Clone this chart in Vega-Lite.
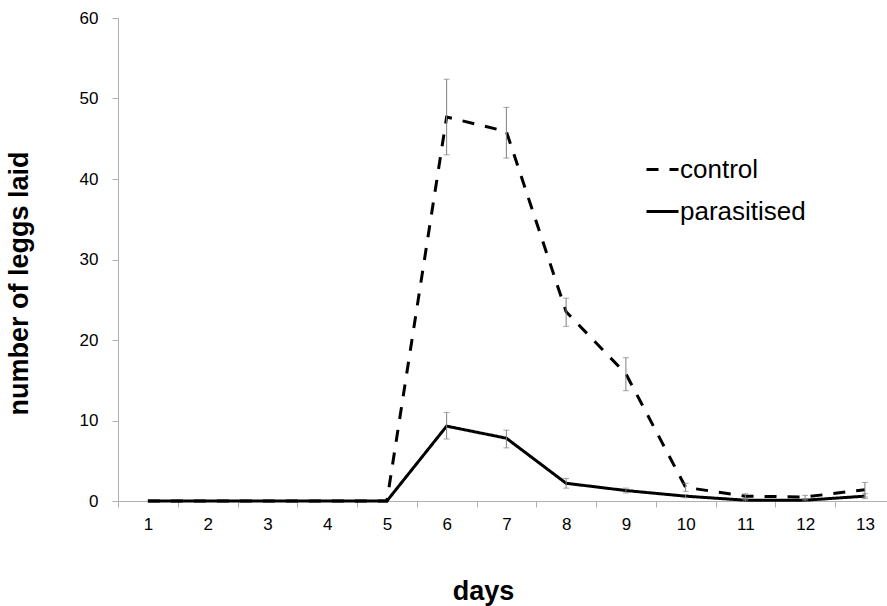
{
  "$schema": "https://vega.github.io/schema/vega-lite/v6.json",
  "width": 769,
  "height": 483,
  "autosize": {"type": "none"},
  "padding": {"left": 118, "top": 18, "right": 0, "bottom": 105},
  "background": "white",
  "config": {
    "view": {"stroke": null},
    "font": "Liberation Sans",
    "axis": {
      "grid": false,
      "domainColor": "#b0b0b0", "domainWidth": 1,
      "tickColor": "#b0b0b0", "tickSize": 6,
      "labelFont": "Liberation Sans", "labelFontSize": 17, "labelColor": "black",
      "titleFont": "Liberation Sans", "titleFontSize": 27, "titleFontWeight": "bold", "titleColor": "black"
    },
    "axisX": {
      "labelPadding": 9, "titlePadding": 46, "titleX": 365,
      "tickOffset": -29.875, "labelOffset": 29.875,
      "labelOverlap": false, "labelFlush": false
    },
    "axisY": {
      "labelPadding": 14, "titlePadding": 46, "titleY": 265
    }
  },
  "data": {
    "values": [
      {"day": 1, "group": "control", "value": 0},
      {"day": 2, "group": "control", "value": 0},
      {"day": 3, "group": "control", "value": 0},
      {"day": 4, "group": "control", "value": 0},
      {"day": 5, "group": "control", "value": 0},
      {"day": 6, "group": "control", "value": 47.7, "lo": 43.0, "hi": 52.4},
      {"day": 7, "group": "control", "value": 45.9, "lo": 42.6, "hi": 48.9},
      {"day": 8, "group": "control", "value": 23.5, "lo": 21.7, "hi": 25.2},
      {"day": 9, "group": "control", "value": 15.8, "lo": 13.7, "hi": 17.8},
      {"day": 10, "group": "control", "value": 1.7, "lo": 1.2, "hi": 2.2},
      {"day": 11, "group": "control", "value": 0.6, "lo": 0.3, "hi": 0.9},
      {"day": 12, "group": "control", "value": 0.5, "lo": 0.3, "hi": 0.7},
      {"day": 13, "group": "control", "value": 1.4, "lo": 0.5, "hi": 2.3},
      {"day": 1, "group": "parasitised", "value": 0},
      {"day": 2, "group": "parasitised", "value": 0},
      {"day": 3, "group": "parasitised", "value": 0},
      {"day": 4, "group": "parasitised", "value": 0},
      {"day": 5, "group": "parasitised", "value": 0},
      {"day": 6, "group": "parasitised", "value": 9.3, "lo": 7.7, "hi": 11.0},
      {"day": 7, "group": "parasitised", "value": 7.8, "lo": 6.6, "hi": 8.8},
      {"day": 8, "group": "parasitised", "value": 2.2, "lo": 1.6, "hi": 2.8},
      {"day": 9, "group": "parasitised", "value": 1.3, "lo": 1.0, "hi": 1.6},
      {"day": 10, "group": "parasitised", "value": 0.6, "lo": 0.4, "hi": 0.8},
      {"day": 11, "group": "parasitised", "value": 0.1, "lo": 0.0, "hi": 0.2},
      {"day": 12, "group": "parasitised", "value": 0.1, "lo": 0.0, "hi": 0.2},
      {"day": 13, "group": "parasitised", "value": 0.6, "lo": 0.3, "hi": 0.9}
    ]
  },
  "layer": [
    {
      "mark": {"type": "line", "color": "black", "strokeWidth": 3, "strokeJoin": "miter"},
      "encoding": {
        "x": {
          "field": "day", "type": "quantitative",
          "scale": {"domain": [0.5, 13.37], "nice": false, "zero": false},
          "axis": {
            "title": "days",
            "values": [1, 2, 3, 4, 5, 6, 7, 8, 9, 10, 11, 12, 13],
            "format": "d"
          }
        },
        "y": {
          "field": "value", "type": "quantitative",
          "scale": {"domain": [0, 60], "nice": false},
          "axis": {
            "title": "number of leggs laid",
            "values": [0, 10, 20, 30, 40, 50, 60]
          }
        },
        "detail": {"field": "group"},
        "strokeDash": {
          "field": "group", "type": "nominal",
          "scale": {"domain": ["control", "parasitised"], "range": [[12, 11], [1, 0]]},
          "legend": {
            "title": null,
            "orient": "none", "legendX": 527, "legendY": 134,
            "symbolType": "stroke", "symbolStrokeWidth": 3, "symbolStrokeColor": "black",
            "symbolSize": 1024,
            "labelFontSize": 26, "labelColor": "black", "labelOffset": 0,
            "rowPadding": 11
          }
        }
      }
    },
    {
      "mark": {"type": "rule", "color": "#808080", "strokeWidth": 1},
      "encoding": {
        "x": {"field": "day", "type": "quantitative"},
        "y": {"field": "lo", "type": "quantitative"},
        "y2": {"field": "hi"}
      }
    },
    {
      "mark": {"type": "tick", "color": "#808080", "orient": "horizontal", "size": 6, "thickness": 1},
      "encoding": {
        "x": {"field": "day", "type": "quantitative"},
        "y": {"field": "lo", "type": "quantitative"}
      }
    },
    {
      "mark": {"type": "tick", "color": "#808080", "orient": "horizontal", "size": 6, "thickness": 1},
      "encoding": {
        "x": {"field": "day", "type": "quantitative"},
        "y": {"field": "hi", "type": "quantitative"}
      }
    }
  ]
}
